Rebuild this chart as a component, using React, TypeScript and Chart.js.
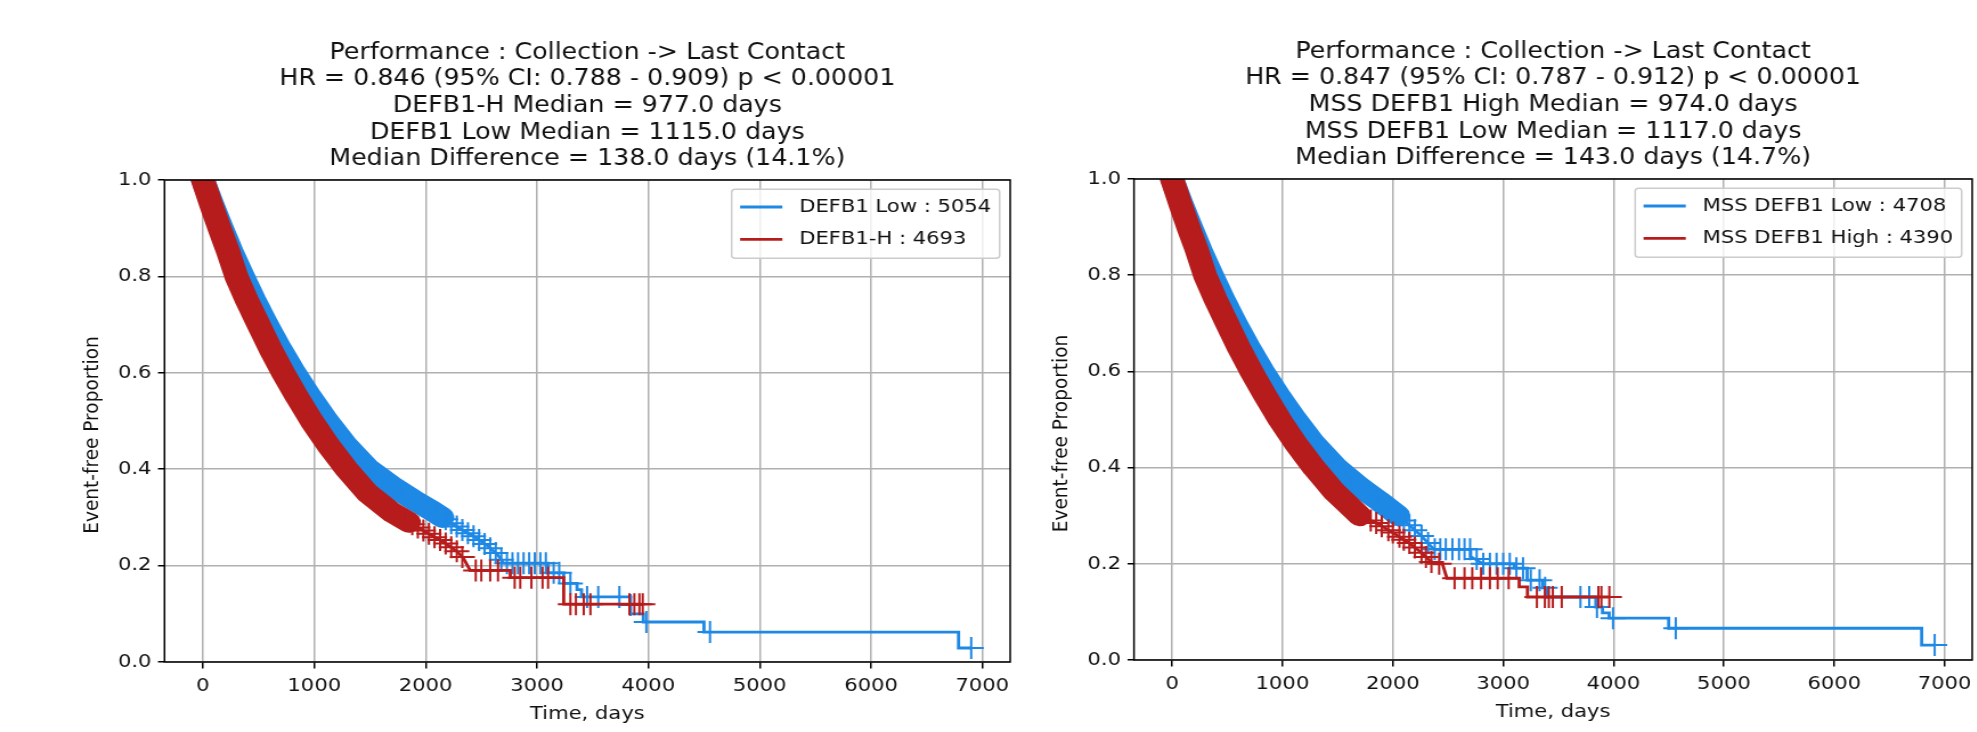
import React, { useEffect, useRef } from 'react';
import { Chart, registerables } from 'chart.js';

Chart.register(...registerables);

// ---------- layout / style constants ----------
const STRETCH = 1.14; // reference image is stretched horizontally
const H = 732;
const FONT_FAMILY = '"DejaVu Sans", "Liberation Sans", sans-serif';
const BLUE = '#1E88E5';
const RED = '#B71C1C';
const BAND_WIDTH = 21;

// ---------- axes ----------
const X_TICKS = [0, 1000, 2000, 3000, 4000, 5000, 6000, 7000];
const Y_TICKS = [0, 0.2, 0.4, 0.6, 0.8, 1.0];
const X_MIN = -345;
const X_MAX = 7250;
const X_LABEL = 'Time, days';
const Y_LABEL = 'Event-free Proportion';

// ---------- left panel text ----------
const LEFT_TITLE = [
  'Performance : Collection -> Last Contact',
  'HR = 0.846 (95% CI: 0.788 - 0.909) p < 0.00001',
  'DEFB1-H Median = 977.0 days',
  'DEFB1 Low Median = 1115.0 days',
  'Median Difference = 138.0 days (14.1%)',
];
const LEFT_LOW_LABEL = 'DEFB1 Low : 5054';
const LEFT_HIGH_LABEL = 'DEFB1-H : 4693';

// ---------- right panel text ----------
const RIGHT_TITLE = [
  'Performance : Collection -> Last Contact',
  'HR = 0.847 (95% CI: 0.787 - 0.912) p < 0.00001',
  'MSS DEFB1 High Median = 974.0 days',
  'MSS DEFB1 Low Median = 1117.0 days',
  'Median Difference = 143.0 days (14.7%)',
];
const RIGHT_LOW_LABEL = 'MSS DEFB1 Low : 4708';
const RIGHT_HIGH_LABEL = 'MSS DEFB1 High : 4390';

// ---------- left panel curves [days, proportion] ----------
const LEFT_HIGH_CURVE: number[][] = [
  [0, 1.0], [72, 0.95], [148, 0.9], [228, 0.85], [300, 0.8], [395, 0.75], [500, 0.7],
  [605, 0.65], [720, 0.6], [845, 0.55], [977, 0.5], [1125, 0.45], [1290, 0.4],
  [1480, 0.35], [1700, 0.31], [1850, 0.29], [2000, 0.27], [2150, 0.25], [2280, 0.23],
  [2340, 0.215], [2400, 0.19], [2760, 0.19], [2760, 0.175], [3240, 0.175], [3240, 0.12],
  [3950, 0.12],
];
const LEFT_HIGH_CENSOR: number[][] = [
  [1780, 0.3], [1830, 0.293], [1880, 0.286], [1930, 0.279], [1980, 0.273], [2030, 0.266],
  [2080, 0.259], [2130, 0.253], [2180, 0.246], [2230, 0.238], [2280, 0.23], [2330, 0.218],
  [2450, 0.19], [2500, 0.19], [2580, 0.19], [2650, 0.19], [2800, 0.175], [2850, 0.175],
  [2950, 0.175], [3050, 0.175], [3100, 0.175], [3300, 0.12], [3350, 0.12], [3420, 0.12],
  [3480, 0.12], [3830, 0.12], [3875, 0.12], [3920, 0.12], [3950, 0.12],
];
const LEFT_LOW_CURVE: number[][] = [
  [0, 1.0], [82, 0.95], [169, 0.9], [260, 0.85], [359, 0.8], [462, 0.75], [573, 0.7],
  [692, 0.65], [821, 0.6], [962, 0.55], [1115, 0.5], [1285, 0.45], [1490, 0.4],
  [1700, 0.365], [1900, 0.335], [2050, 0.315], [2150, 0.3], [2300, 0.278], [2450, 0.258],
  [2550, 0.242], [2650, 0.222], [2700, 0.205], [3100, 0.205], [3100, 0.185], [3240, 0.185],
  [3240, 0.163], [3360, 0.163], [3360, 0.15], [3400, 0.15], [3400, 0.135], [3840, 0.135],
  [3840, 0.1], [3955, 0.1], [3955, 0.083], [4500, 0.083], [4500, 0.062], [6786, 0.062],
  [6786, 0.029], [6900, 0.029],
];
const LEFT_LOW_CENSOR: number[][] = [
  [2080, 0.31], [2130, 0.303], [2180, 0.296], [2230, 0.288], [2280, 0.281], [2330, 0.274],
  [2380, 0.267], [2430, 0.261], [2480, 0.253], [2530, 0.245], [2580, 0.236], [2630, 0.226],
  [2680, 0.212], [2730, 0.205], [2780, 0.205], [2830, 0.205], [2880, 0.205], [2930, 0.205],
  [2980, 0.205], [3030, 0.205], [3080, 0.205], [3150, 0.185], [3200, 0.185], [3300, 0.163],
  [3450, 0.135], [3550, 0.135], [3740, 0.135], [3840, 0.118], [3982, 0.083], [4554, 0.062],
  [6900, 0.029],
];
const LEFT_HIGH_BAND_END = 1850;
const LEFT_LOW_BAND_END = 2150;

// ---------- right panel curves [days, proportion] ----------
const RIGHT_HIGH_CURVE: number[][] = [
  [0, 1.0], [72, 0.95], [147, 0.9], [227, 0.85], [298, 0.8], [393, 0.75], [498, 0.7],
  [603, 0.65], [718, 0.6], [843, 0.55], [974, 0.5], [1120, 0.45], [1285, 0.4],
  [1470, 0.35], [1700, 0.3], [1850, 0.285], [2000, 0.265], [2150, 0.243], [2260, 0.223],
  [2330, 0.208], [2372, 0.2], [2450, 0.2], [2490, 0.17], [3145, 0.17], [3145, 0.152],
  [3220, 0.152], [3220, 0.131], [3962, 0.131],
];
const RIGHT_HIGH_CENSOR: number[][] = [
  [1800, 0.29], [1850, 0.285], [1900, 0.278], [1960, 0.27], [2000, 0.265], [2060, 0.256],
  [2100, 0.25], [2150, 0.243], [2200, 0.234], [2260, 0.223], [2300, 0.214], [2350, 0.204],
  [2420, 0.2], [2560, 0.17], [2650, 0.17], [2720, 0.17], [2800, 0.17], [2880, 0.17],
  [2950, 0.17], [3050, 0.17], [3306, 0.131], [3378, 0.131], [3414, 0.131], [3450, 0.131],
  [3531, 0.131], [3863, 0.131], [3890, 0.131], [3962, 0.131],
];
const RIGHT_LOW_CURVE: number[][] = [
  [0, 1.0], [82, 0.95], [170, 0.9], [261, 0.85], [360, 0.8], [463, 0.75], [574, 0.7],
  [693, 0.65], [822, 0.6], [964, 0.55], [1117, 0.5], [1285, 0.45], [1490, 0.4],
  [1700, 0.36], [1880, 0.33], [2050, 0.3], [2150, 0.28], [2250, 0.26], [2372, 0.23],
  [2705, 0.23], [2705, 0.215], [2820, 0.2], [3100, 0.2], [3100, 0.191], [3217, 0.191],
  [3217, 0.166], [3360, 0.166], [3360, 0.15], [3400, 0.15], [3400, 0.131], [3840, 0.131],
  [3840, 0.11], [3900, 0.11], [3900, 0.098], [3960, 0.098], [3960, 0.087], [4500, 0.087],
  [4500, 0.066], [6792, 0.066], [6792, 0.031], [6910, 0.031],
];
const RIGHT_LOW_CENSOR: number[][] = [
  [2100, 0.29], [2150, 0.28], [2200, 0.27], [2260, 0.258], [2320, 0.243], [2380, 0.23],
  [2430, 0.23], [2480, 0.23], [2540, 0.23], [2600, 0.23], [2650, 0.23], [2700, 0.23],
  [2760, 0.21], [2820, 0.2], [2880, 0.2], [2940, 0.2], [3000, 0.2], [3060, 0.2],
  [3120, 0.191], [3180, 0.191], [3250, 0.166], [3330, 0.166], [3380, 0.15], [3700, 0.131],
  [3780, 0.131], [3850, 0.11], [3995, 0.087], [4564, 0.066], [6910, 0.031],
];
const RIGHT_HIGH_BAND_END = 1800;
const RIGHT_LOW_BAND_END = 2100;

type Area = { left: number; right: number; top: number; bottom: number };
type PanelCfg = {
  cssLeft: number;
  cssWidth: number;
  area: Area;
  title: string[];
  lowLabel: string;
  highLabel: string;
  lowCurve: number[][];
  highCurve: number[][];
  lowCensor: number[][];
  highCensor: number[][];
  lowBandEnd: number;
  highBandEnd: number;
};

const PANELS: PanelCfg[] = [
  {
    cssLeft: 0, cssWidth: 1025,
    area: { left: 164.5, right: 1015, top: 180, bottom: 662 },
    title: LEFT_TITLE, lowLabel: LEFT_LOW_LABEL, highLabel: LEFT_HIGH_LABEL,
    lowCurve: LEFT_LOW_CURVE, highCurve: LEFT_HIGH_CURVE,
    lowCensor: LEFT_LOW_CENSOR, highCensor: LEFT_HIGH_CENSOR,
    lowBandEnd: LEFT_LOW_BAND_END, highBandEnd: LEFT_HIGH_BAND_END,
  },
  {
    cssLeft: 1025, cssWidth: 962,
    area: { left: 1134, right: 1982, top: 179, bottom: 660 },
    title: RIGHT_TITLE, lowLabel: RIGHT_LOW_LABEL, highLabel: RIGHT_HIGH_LABEL,
    lowCurve: RIGHT_LOW_CURVE, highCurve: RIGHT_HIGH_CURVE,
    lowCensor: RIGHT_LOW_CENSOR, highCensor: RIGHT_HIGH_CENSOR,
    lowBandEnd: RIGHT_LOW_BAND_END, highBandEnd: RIGHT_HIGH_BAND_END,
  },
];

const toXY = (pairs: number[][]) => pairs.map(([x, y]) => ({ x, y }));

function KMPanel({ cfg }: { cfg: PanelCfg }) {
  const ref = useRef<HTMLCanvasElement>(null);
  const pxW = Math.round(cfg.cssWidth / STRETCH);

  useEffect(() => {
    const canvas = ref.current as HTMLCanvasElement;
    const k = cfg.cssWidth / pxW;
    const aLeft = (cfg.area.left - cfg.cssLeft) / k;
    const aRight = Math.min((cfg.area.right - cfg.cssLeft) / k, pxW - 1);
    const fs = 18.5;
    const titleFs = 22.2;

    const decor = {
      id: 'decor',
      afterDraw(chart: any) {
        const { ctx, chartArea: a } = chart;
        ctx.save();
        // spines
        ctx.strokeStyle = '#000';
        ctx.lineWidth = 1.5;
        ctx.strokeRect(a.left, a.top, a.right - a.left, a.bottom - a.top);

        // legend
        ctx.font = `${fs}px ${FONT_FAMILY}`;
        const labels = [cfg.lowLabel, cfg.highLabel];
        const colors = [BLUE, RED];
        const tw = Math.max(...labels.map((l) => ctx.measureText(l).width));
        const pad = 0.4 * fs;
        const handle = 2 * fs;
        const gap = 0.8 * fs;
        const bw = pad * 2 + handle + gap + tw;
        const bh = 3.73 * fs;
        const bx = a.right - 0.5 * fs - bw;
        const by = a.top + 0.5 * fs;
        ctx.beginPath();
        ctx.roundRect(bx, by, bw, bh, 3);
        ctx.fillStyle = 'rgba(255,255,255,0.8)';
        ctx.fill();
        ctx.strokeStyle = '#cccccc';
        ctx.lineWidth = 1.5;
        ctx.stroke();
        labels.forEach((l, i) => {
          const y = by + 0.96 * fs + i * 1.75 * fs;
          ctx.beginPath();
          ctx.strokeStyle = colors[i];
          ctx.lineWidth = 2.8;
          ctx.moveTo(bx + pad, y);
          ctx.lineTo(bx + pad + handle, y);
          ctx.stroke();
          ctx.fillStyle = '#111';
          ctx.textAlign = 'left';
          ctx.textBaseline = 'middle';
          ctx.fillText(l, bx + pad + handle + gap, y);
        });

        // title
        const cx = (a.left + a.right) / 2;
        ctx.fillStyle = '#111';
        ctx.textAlign = 'center';
        ctx.textBaseline = 'middle';
        ctx.font = `${titleFs}px ${FONT_FAMILY}`;
        cfg.title.forEach((line, i) => {
          ctx.fillText(line, cx, a.top - 127 + i * 26.6);
        });

        // axis labels
        ctx.font = `${fs}px ${FONT_FAMILY}`;
        ctx.fillText(X_LABEL, cx, a.bottom + 52);
        ctx.translate(a.left - 63, (a.top + a.bottom) / 2 + 14);
        ctx.rotate(-Math.PI / 2);
        ctx.fillText(Y_LABEL, 0, 0);
        ctx.restore();
      },
    };

    const common = { pointRadius: 0, fill: false, tension: 0, clip: 0 };
    const censor = (data: number[][], color: string, order: number) => ({
      data: toXY(data),
      showLine: false,
      pointStyle: 'cross',
      pointRadius: 11,
      pointHoverRadius: 11,
      pointBorderWidth: 2,
      pointBorderColor: color,
      pointBackgroundColor: color,
      borderColor: color,
      order,
      clip: 0,
    });

    const chart = new Chart(canvas, {
      type: 'line',
      data: {
        datasets: [
          censor(cfg.highCensor, RED, 0),
          { ...common, data: toXY(cfg.highCurve), borderColor: RED, borderWidth: 2.8, order: 1 },
          {
            ...common,
            data: toXY(cfg.highCurve.filter(([t]) => t <= cfg.highBandEnd)),
            borderColor: RED, borderWidth: BAND_WIDTH,
            borderCapStyle: 'round', borderJoinStyle: 'round', order: 2,
          },
          censor(cfg.lowCensor, BLUE, 3),
          { ...common, data: toXY(cfg.lowCurve), borderColor: BLUE, borderWidth: 2.8, order: 4 },
          {
            ...common,
            data: toXY(cfg.lowCurve.filter(([t]) => t <= cfg.lowBandEnd)),
            borderColor: BLUE, borderWidth: BAND_WIDTH,
            borderCapStyle: 'round', borderJoinStyle: 'round', order: 5,
          },
        ] as any,
      },
      options: {
        responsive: false,
        animation: false,
        devicePixelRatio: 1,
        events: [],
        layout: { padding: { left: 0, right: pxW - aRight, top: cfg.area.top, bottom: 0 } },
        plugins: {
          legend: { display: false },
          title: { display: false },
          tooltip: { enabled: false },
        },
        scales: {
          x: {
            type: 'linear',
            min: X_MIN,
            max: X_MAX,
            afterFit: (s: any) => { s.height = H - cfg.area.bottom; },
            afterBuildTicks: (s: any) => { s.ticks = X_TICKS.map((v) => ({ value: v })); },
            grid: { color: '#b0b0b0', lineWidth: 1.5, tickLength: 6.5, tickColor: '#000', tickWidth: 1.5, drawTicks: true },
            border: { display: false },
            ticks: {
              font: { family: FONT_FAMILY, size: fs },
              color: '#111',
              padding: 6.5,
              maxRotation: 0,
              minRotation: 0,
              autoSkip: false,
              callback: (v: any) => String(v),
            },
          },
          y: {
            type: 'linear',
            min: 0,
            max: 1,
            afterFit: (s: any) => { s.width = aLeft; },
            afterBuildTicks: (s: any) => { s.ticks = Y_TICKS.map((v) => ({ value: v })); },
            grid: { color: '#b0b0b0', lineWidth: 1.5, tickLength: 6.5 / k, tickColor: '#000', tickWidth: 1.5, drawTicks: true },
            border: { display: false },
            ticks: {
              font: { family: FONT_FAMILY, size: fs },
              color: '#111',
              padding: 6.5 / k,
              callback: (v: any) => Number(v).toFixed(1),
            },
          },
        },
      } as any,
      plugins: [decor],
    });
    return () => chart.destroy();
  }, []);

  return (
    <canvas
      ref={ref}
      width={pxW}
      height={H}
      style={{ position: 'absolute', left: cfg.cssLeft, top: 0, width: cfg.cssWidth, height: H, display: 'block' }}
    />
  );
}

export default function App() {
  return (
    <div
      style={{
        position: 'absolute', left: 0, top: 0, width: 1977, height: H,
        overflow: 'hidden', background: '#ffffff',
      }}
    >
      {PANELS.map((p, i) => (
        <KMPanel key={i} cfg={p} />
      ))}
    </div>
  );
}
